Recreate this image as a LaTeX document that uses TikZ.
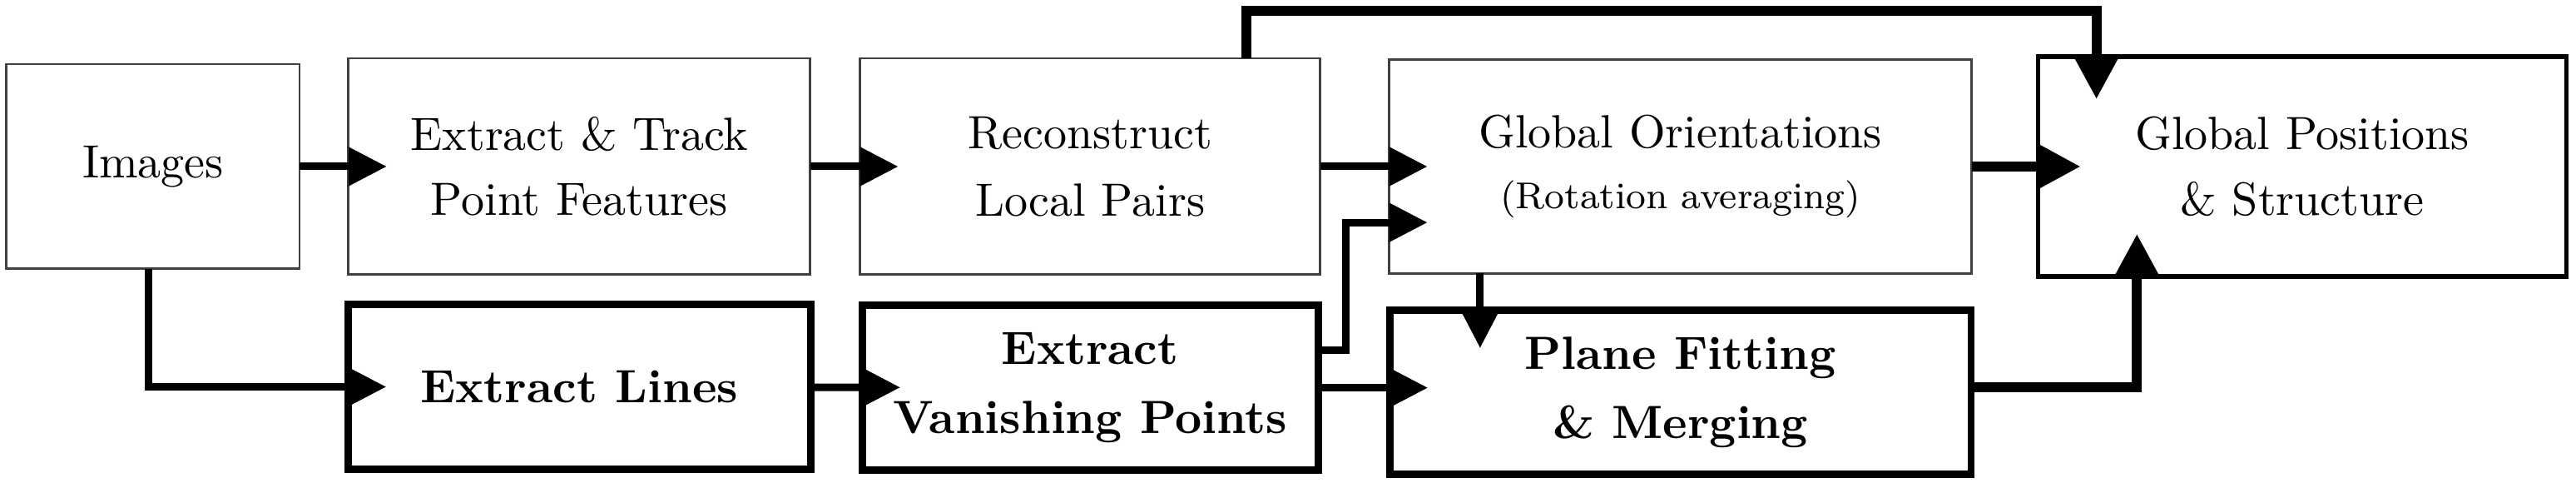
\documentclass[tikz,border=0pt]{standalone}
\usepackage{tikz}
\usetikzlibrary{positioning, arrows.meta}

\begin{document}
\begin{tikzpicture}[
  box/.style={rectangle, draw=black!75, line width=0.5pt, outer sep=0pt, minimum height=46.4pt, align=center, font=\normalsize, inner sep=2pt},
  boldbox/.style={rectangle, draw=black, line width=1.6pt, outer sep=0pt, minimum height=35.3pt, align=center, font=\normalsize\bfseries, inner sep=2pt},
  posbox/.style={rectangle, draw=black, line width=1pt, outer sep=0pt, minimum width=113.4pt, minimum height=47.1pt, align=center, font=\normalsize},
  arr/.style={-{Triangle[length=8.2pt, width=8pt]}, line width=1.6pt, shorten >=-8.2pt},
  arrthick/.style={-{Triangle[length=9.1pt, width=9.1pt]}, line width=2.1pt, shorten >=-9.1pt}
]
\useasboundingbox (-32.86pt,35.72pt) rectangle (520.1pt,-67.7pt);

% top row
\node[box, minimum width=62.9pt, minimum height=43.9pt] (img) at (0,0) {Images};
\node[box, minimum width=99.1pt, right=10.5pt of img] (track) {Extract \& Track \\[2pt] Point Features};
\node[box, minimum width=98.8pt, right=10.7pt of track] (rec) {Reconstruct \\[2.5pt] Local Pairs};
\node[box, minimum width=125pt, minimum height=45.9pt, right=14.8pt of rec] (rot) {Global Orientations \\[1pt] \footnotesize (Rotation averaging)};
\node[posbox, right=14.3pt of rot] (pos) {Global Positions \\[2pt] \& Structure};

% bottom row
\node[boldbox, minimum width=99.3pt, below=6.4pt of track] (lines) {Extract Lines};
\node[boldbox, minimum width=97.9pt, below=6.6pt of rec] (vp) {Extract \\[2.8pt] Vanishing Points};
\node[boldbox, minimum width=124.8pt, below=7.8pt of rot] (plane) {Plane Fitting \\[2.8pt] \& Merging};

\draw[arr] (img) -- (track);
\draw[arr] (track) -- (rec);
\draw[arr] (rec) -- (rot);
\draw[arrthick] (rot) -- (pos);
\draw[arrthick] ([xshift=33.5pt]rec.north) -- ++(0,10.2pt) -| ([xshift=-44.2pt]pos.north);
\draw[arr] ([xshift=-1pt]img.south) |- (lines.west);
\draw[arr] (lines) -- (vp);
\draw[arr] (vp.east) -- (vp.east -| plane.west);
\draw[arr] ([yshift=8pt]vp.east) -- ++(5.9pt,0) |- ([yshift=-12pt]rot.west);
\draw[arr] ([xshift=-43pt]rot.south) -- ([xshift=-43pt]plane.north);
\draw[arrthick] ([yshift=1pt]plane.east) -| ([xshift=-35.5pt]pos.south);
\end{tikzpicture}
\end{document}
